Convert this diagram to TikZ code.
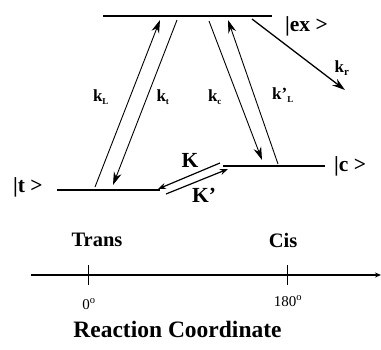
\documentclass[tikz,border=0pt]{standalone}
\usepackage{fontspec}
\setmainfont{Liberation Serif}
\usetikzlibrary{arrows.meta}
\begin{document}
\begin{tikzpicture}[x=1pt,y=-1pt,
  level/.style={line width=2.6pt},
  thinarr/.style={line width=0.9pt,-{Stealth[length=13pt,width=8pt]}},
  thickarr/.style={line width=1.3pt,-{Stealth[length=13pt,width=8pt]}},
  smallarr/.style={line width=1.2pt,-{Stealth[length=8pt,width=6pt]}},
  lab/.style={font=\bfseries\fontsize{17}{17}\selectfont, inner sep=0pt},
  state/.style={font=\bfseries\fontsize{21.5}{21.5}\selectfont, inner sep=0pt},
  big/.style={font=\bfseries\fontsize{20.5}{20.5}\selectfont, inner sep=0pt},
  deg/.style={font=\fontsize{15}{15}\selectfont, inner sep=0pt},
  axisline/.style={line width=1.1pt,-{Stealth[length=6pt,width=5pt]}}]
\useasboundingbox (0,0) rectangle (381,349);
% levels
\coordinate (exL) at (103,16); \coordinate (exR) at (272,16);
\coordinate (tL) at (57,190);  \coordinate (tR) at (160,190);
\coordinate (cL) at (223,166); \coordinate (cR) at (325,166);
\draw[level] (exL) -- (exR);
\draw[level] (tL) -- (tR);
\draw[level] (cL) -- (cR);
\node[state,anchor=west] (exlab) at (285,26) {|ex >};
\node[state,anchor=west] (tlab) at (13,187) {|t >};
\node[state,anchor=west] (clab) at (334,166) {|c >};
% transition endpoints
\coordinate (kL0) at (95,187);  \coordinate (kL1) at (160,20);
\coordinate (kt0) at (177,20);  \coordinate (kt1) at (113,185);
\coordinate (kc0) at (209,21);  \coordinate (kc1) at (262,160);
\coordinate (kpL0) at (278,164); \coordinate (kpL1) at (228,20);
\coordinate (kr0) at (252,19);  \coordinate (kr1) at (345,90);
\coordinate (K0) at (220,163);  \coordinate (K1) at (158,189);
\coordinate (Kp0) at (166,194); \coordinate (Kp1) at (228,169);
\draw[thinarr] (kL0) -- (kL1);
\draw[thinarr] (kt0) -- (kt1);
\draw[thinarr] (kc0) -- (kc1);
\draw[thinarr] (kpL0) -- (kpL1);
\draw[thickarr] (kr0) -- (kr1);
\draw[smallarr] (K0) -- (K1);
\draw[smallarr] (Kp0) -- (Kp1);
% rate labels
\node[lab] (lkL) at (101,97) {k\textsubscript{\fontsize{9}{9}\selectfont L}};
\node[lab] (lkt) at (163,97) {k\textsubscript{\fontsize{9}{9}\selectfont t}};
\node[lab] (lkc) at (215,97) {k\textsubscript{\fontsize{9}{9}\selectfont c}};
\node[lab] (lkpL) at (283,95) {k’\textsubscript{\fontsize{9}{9}\selectfont L}};
\node[lab] (lkr) at (342,68) {k\textsubscript{\fontsize{11}{11}\selectfont r}};
\node[state] (lK) at (190,160) {K};
\node[state] (lKp) at (204,195) {K’};
% reaction coordinate axis
\node[big] (trans) at (97,240) {Trans};
\node[big] (cis) at (283,240) {Cis};
\coordinate (ax0) at (31,275); \coordinate (ax1) at (381,275);
\draw[axisline] (ax0) -- (ax1);
\coordinate (t0a) at (88,265); \coordinate (t0b) at (88,285);
\coordinate (t1a) at (287,265); \coordinate (t1b) at (287,285);
\draw[line width=0.8pt] (t0a) -- (t0b);
\draw[line width=0.8pt] (t1a) -- (t1b);
\node[deg] (d0) at (89,304) {0\textsuperscript{o}};
\node[deg] (d180) at (288,301) {180\textsuperscript{o}};
\node[font=\bfseries\fontsize{23.5}{23.5}\selectfont, inner sep=0pt] (rc) at (177.5,329) {Reaction Coordinate};
\end{tikzpicture}
\end{document}
